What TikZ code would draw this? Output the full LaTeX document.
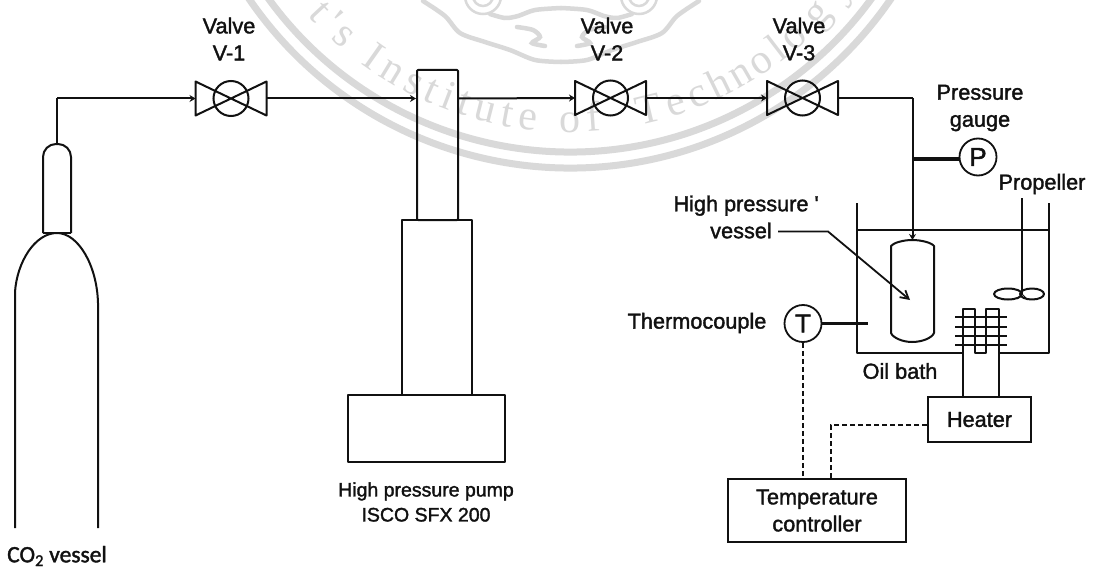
\documentclass[tikz,border=0pt]{standalone}
\usepackage{fontspec}
\usetikzlibrary{arrows.meta,calc}
\setmainfont{Liberation Sans}
\newfontfamily\labfont[FakeBold=1.6]{Liberation Sans}
\newfontfamily\cofont[FakeBold=1.6]{Carlito}
\newfontfamily\wmfont{Liberation Serif}
\definecolor{wm}{HTML}{D9D9D9}
\definecolor{ink}{HTML}{111111}
\tikzset{
  lbl/.style={inner sep=0pt,align=center,text=ink,font=\labfont\fontsize{21.7}{27}\selectfont},
  pumplbl/.style={lbl,font=\labfont\fontsize{19.5}{25}\selectfont},
  colbl/.style={lbl,font=\cofont\fontsize{23.5}{25}\selectfont},
  part/.style={draw=ink,line width=2pt,line join=round},
  pipe/.style={draw=ink,line width=2pt,line join=round},
  pipetip/.style={pipe,-{Stealth[length=6pt,width=7pt]}},
  thick pipe/.style={draw=ink,line width=3.2pt},
  signal/.style={draw=ink,line width=2.2pt,dash pattern=on 5pt off 3pt},
  gauge/.style={circle,draw=ink,line width=1.8pt,minimum size=37pt,inner sep=0pt,text=ink,font=\labfont\fontsize{26}{26}\selectfont},
  valvec/.style={circle,draw=ink,line width=2pt,minimum size=35pt,inner sep=0pt},
  boxn/.style={draw=ink,line width=2pt,inner sep=0pt,text=ink,align=center,font=\labfont\fontsize{21.7}{27}\selectfont},
  ring/.style={draw=wm,line width=7pt},
  orn/.style={draw=wm,line width=4.5pt,line cap=round},
  wmletter/.style={inner sep=0pt,anchor=base,text=wm,font=\wmfont\fontsize{42}{42}\selectfont}
}
\newcommand{\valvesym}[3]{%
  \node[valvec] (#1) at (#2,#3) {};
  \draw[part] (#2-35.5,#3-17) -- (#2+35.5,#3+17) -- (#2+35.5,#3-17) -- (#2-35.5,#3+17) -- cycle;
  \coordinate (#1l) at (#2-35.5,#3);
  \coordinate (#1r) at (#2+35.5,#3);
}
\begin{document}
\begin{tikzpicture}[x=1pt,y=-1pt]
\useasboundingbox (0,0) rectangle (1097,567);
\clip (0,0) rectangle (1097,567);
\fill[white] (0,0) rectangle (1097,567);
% watermark seal
\draw[ring] (570,-221) ++(150:373) arc (150:30:373);
\draw[ring] (570,-221) ++(150:389) arc (150:30:389);
\foreach \ch/\ang [count=\ci] in {t/137,'/134.4,s/131.4,I/125.2,n/121.3,s/117.2,t/113.9,i/110.9,t/108,u/104.3,t/100.5,e/97,o/90,f/86.1,T/76.5,e/72,c/68,h/64,n/60,o/56,l/52.5,o/49,g/43.5,y/38}{
  \pgfmathsetmacro\rot{90-\ang}
  \node[wmletter,rotate=\rot] (wm\ci) at ($(570,-221)+(\ang:353)$) {\ch};
}
\begin{scope}
 \foreach \s/\o in {1/0,-1/1122}{
 \begin{scope}[shift={(\o,0)},xscale=\s]
  \draw[orn] plot[smooth] coordinates {(423,1) (445,16) (460,33) (485,42) (510,50) (535,60) (561,62)};
  \draw[orn] plot[smooth] coordinates {(490,14) (505,18) (518,16) (535,10) (561,8)};
  \draw[orn] plot[smooth] coordinates {(517,27) (533,30) (540,37) (532,43) (545,46)};
  \draw[orn,line width=2.5pt] (483,-4) circle (10);
  \draw[orn,line width=2.5pt] (483,-4) circle (18);
 \end{scope}}
\end{scope}
% CO2 vessel
\draw[part] (15,528) -- (15,292) .. controls (17,262) and (35,233) .. (57,233)
   .. controls (78,233) and (97,265) .. (98,303) -- (98,528);
\draw[part,rounded corners=13pt] (43,233) -- (43,144) -- (71,144) -- (71,233);
\draw[part] (43,233) -- (71,233);
\coordinate (neck) at (57,144);
\coordinate (elbow) at (57,98.5);
% valves
\valvesym{vone}{231}{98.5}
\valvesym{vtwo}{610.5}{98}
\valvesym{vthree}{802.5}{98}
% pump
\node[part,draw,minimum width=41pt,minimum height=150pt,inner sep=0pt,rounded corners=1pt] (pumptop) at (437.5,145) {};
\node[part,draw,minimum width=70pt,minimum height=175pt,inner sep=0pt] (pumpmid) at (437,307.5) {};
\node[part,draw,minimum width=157pt,minimum height=67pt,inner sep=0pt] (pumpbase) at (426.5,428.5) {};
\coordinate (pumpin) at (pumptop.west |- vone);
\coordinate (pumpout) at (pumptop.east |- vone);
% pipes
\draw[pipe] (neck) -- (elbow);
\draw[pipetip] (elbow) -- (vonel);
\draw[pipetip] (voner) -- (pumpin);
\draw[pipetip] (pumpout) -- (vtwol);
\draw[pipetip] (vtwor) -- (vthreel);
% oil bath
\draw[part] (857,203) -- (857,353) -- (963,353);
\draw[part] (999,353) -- (1049,353) -- (1049,203);
\draw[part] (857,230) -- (1049,230);
% high pressure vessel
\draw[part] (891,246) -- (891,333) .. controls (893,338) and (903,342) .. (912,342)
  .. controls (922,342) and (932,338) .. (934,333) -- (934,246)
  .. controls (932,243) and (922,240) .. (912,240) .. controls (903,240) and (893,243) .. (891,246) -- cycle;
\coordinate (hpv) at (912.5,240);
\coordinate (teeV) at (912.5,98);
\coordinate (teeP) at (912.5,159);
\draw[pipe] (vthreer) -- (teeV);
\draw[pipetip] (teeV) -- (hpv);
% pressure gauge
\node[gauge] (P) at (978,157) {P};
\draw[thick pipe] (teeP) -- (P.west |- teeP);
% thermocouple
\node[gauge] (T) at (803,323.5) {T};
\coordinate (tcend) at (868,323.5);
\draw[thick pipe] (T.east) -- (tcend);
% propeller
\coordinate (shafttop) at (1022,198);
\coordinate (shaftend) at (1022,294);
\draw[part] (shafttop) -- (shaftend);
\draw[part] (1008,294) ellipse (14 and 5.5);
\draw[part] (1032,294) ellipse (12 and 5.5);
\draw[part,line width=1pt] (1017,299) -- (1022,294) -- (1027,299);
% heater coil
\draw[part] (963,397) -- (963,309) -- (975,309) -- (975,353) -- (986,353) -- (986,309) -- (999,309) -- (999,397);
\foreach \yy in {317,327,336,345}{\draw[part] (955,\yy) -- (1007,\yy);}
% boxes
\node[boxn,minimum width=103pt,minimum height=45pt] (heater) at (979.5,419.5) {Heater};
\node[boxn,minimum width=178pt,minimum height=63pt] (ctrl) at (817,510.5) {Temperature\\controller};
% signals
\coordinate (sigA) at (831,425);
\draw[signal] (T.south) -- (T.south |- ctrl.north);
\draw[signal] (heater.west |- sigA) -- (sigA) -- (sigA |- ctrl.north);
% labels
\node[lbl] (lv1) at (229,39) {Valve\\V-1};
\node[lbl] (lv2) at (607,39) {Valve\\V-2};
\node[lbl] (lv3) at (799,39) {Valve\\V-3};
\node[lbl] (lp) at (980,108) {Pressure\\gauge};
\node[lbl] (lprop) at (1042,184) {Propeller};
\node[lbl] (lhp) at (741,217) {High pressure\rlap{ '}\\vessel};
\node[lbl] (ltc) at (697,323) {Thermocouple};
\node[lbl] (loil) at (900,371) {Oil bath};
\node[pumplbl] (lpump) at (426,502) {High pressure pump\\ISCO SFX 200};
\node[colbl] (lco) at (57,556) {CO\textsubscript{2} vessel};
% pointer
\coordinate (ptrs) at (778,231.5);
\coordinate (ptr) at (828,231.5);
\coordinate (ptrend) at (910,300);
\draw[draw=ink,line width=1.8pt,-{Straight Barb[length=8pt,width=9pt]}] (ptrs) -- (ptr) -- (ptrend);
\end{tikzpicture}
\end{document}
